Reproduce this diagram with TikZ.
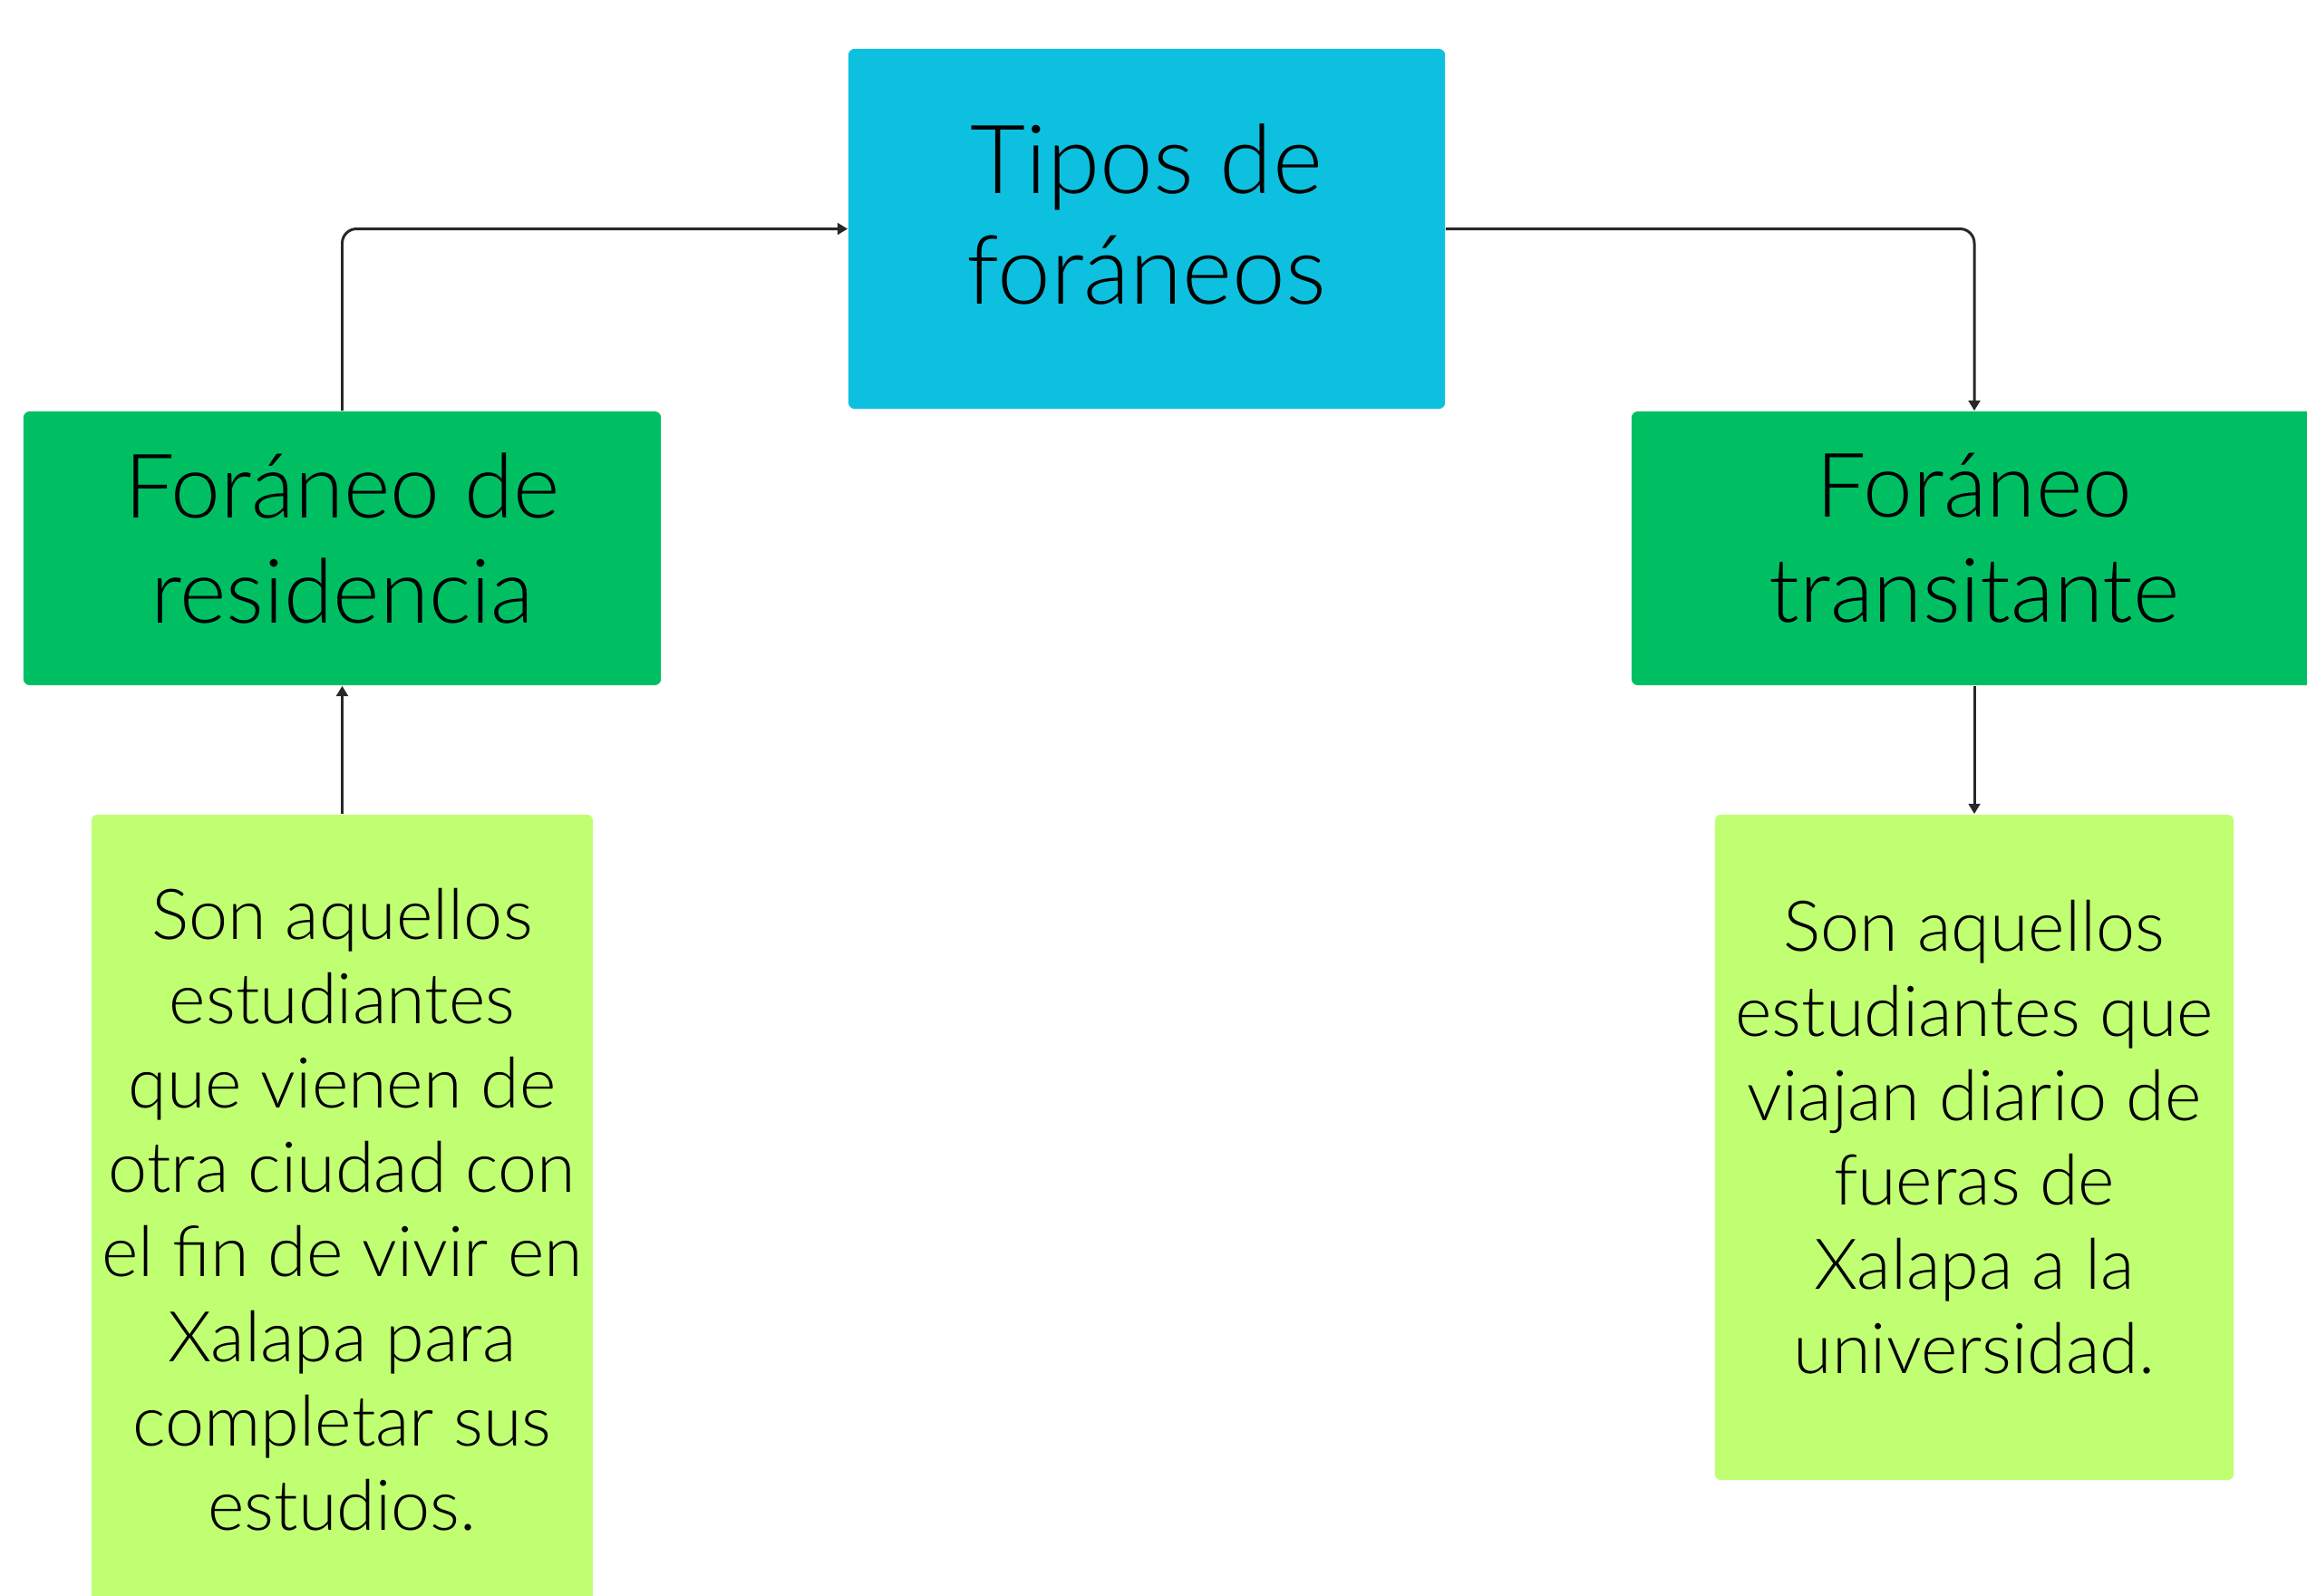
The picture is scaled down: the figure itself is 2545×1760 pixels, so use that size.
\documentclass[tikz,border=0pt]{standalone}
\usepackage{fontspec}
\setmainfont{Lato}[UprightFont={* Light}]
\usetikzlibrary{arrows.meta}
\definecolor{topblue}{RGB}{14,192,224}
\definecolor{midgreen}{RGB}{0,191,99}
\definecolor{lightgreen}{RGB}{193,255,114}
\definecolor{linegray}{RGB}{40,40,40}
\tikzset{
  box/.style={rectangle, rounded corners=2pt, inner sep=0pt, align=center, text=black},
  titlebox/.style={box, fill=topblue},
  catbox/.style={box, fill=midgreen},
  descbox/.style={box, fill=lightgreen},
  titletext/.style={align=center, inner sep=0pt, font=\fontsize{30}{34.5}\selectfont},
  cattext/.style={align=center, inner sep=0pt, font=\fontsize{28}{33}\selectfont},
  desctext/.style={align=center, inner sep=0pt, font=\fontsize{22}{26.5}\selectfont},
  conn/.style={draw=linegray, line width=0.85pt, rounded corners=4.5pt, -{Triangle[length=3.2pt,width=3.6pt]}}
}
\begin{document}
\begin{tikzpicture}[x=0.01cm,y=-0.01cm]
\useasboundingbox (0,0) rectangle (2545,1760);
\node[titlebox, minimum width=6.58cm, minimum height=3.97cm,
  label={[titletext, yshift=0.16cm]center:Tipos de\\for\'aneos}] (title) at (1265,252.5) {};
\node[catbox, minimum width=7.03cm, minimum height=3.02cm,
  label={[cattext, yshift=0.11cm]center:For\'aneo de\\residencia}] (res) at (377.5,605) {};
\node[catbox, minimum width=7.56cm, minimum height=3.02cm,
  label={[cattext, yshift=0.11cm]center:For\'aneo\\transitante}] (tra) at (2178,605) {};
\node[descbox, minimum width=5.53cm, minimum height=8.71cm,
  label={[desctext]center:Son aquellos\\estudiantes\\que vienen de\\otra ciudad con\\el fin de vivir en\\Xalapa para\\completar sus\\estudios.}] (resd) at (377.5,1334.5) {};
\node[descbox, minimum width=5.72cm, minimum height=7.34cm,
  label={[desctext, yshift=0.11cm]center:Son aquellos\\estudiantes que\\viajan diario de\\fueras de\\Xalapa a la\\universidad.}] (trad) at (2178,1266) {};
\draw[conn] (res.north) |- (title.west);
\draw[conn] (title.east) -| (tra.north);
\draw[conn] (resd.north) -- (res.south);
\draw[conn] (tra.south) -- (trad.north);
\end{tikzpicture}
\end{document}
